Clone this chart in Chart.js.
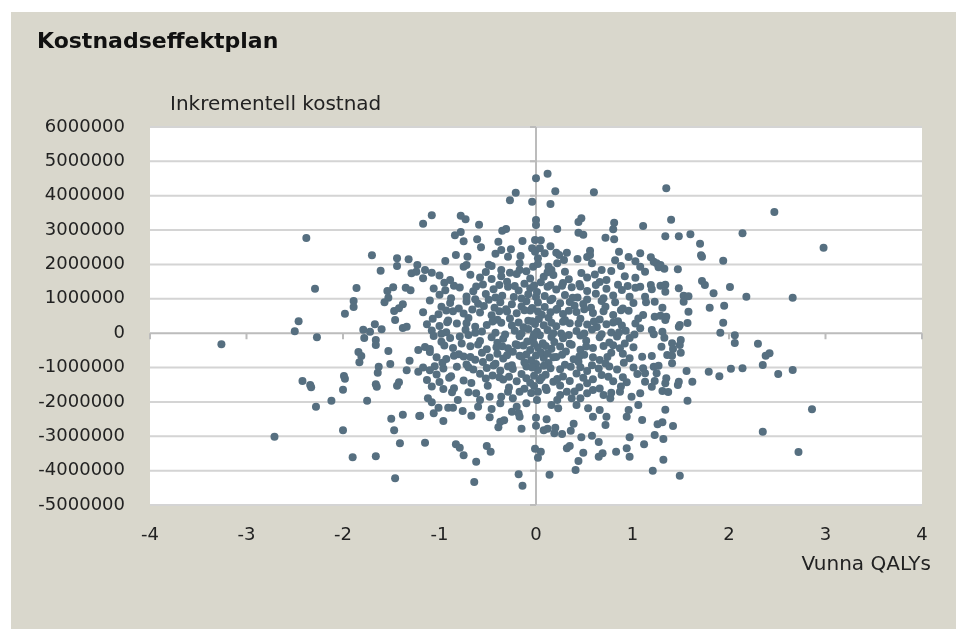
<!DOCTYPE html>
<html lang="sv">
<head>
<meta charset="UTF-8">
<title>Kostnadseffektplan</title>
<style>
  html, body { margin: 0; padding: 0; background: #fff; }
  canvas { display: block; }
</style>
<script src="https://cdn.jsdelivr.net/npm/chart.js"></script>
</head>
<body>
<canvas id="plane" width="956" height="629"></canvas>
<script>
const chartTitle = "Kostnadseffektplan";
const costAxisTitle = "Inkrementell kostnad";
const qalyAxisTitle = "Vunna QALYs";
const qalyRange = [-4, 4];
const costRange = [-5000000, 6000000];
const costStep = 1000000;

// [vunna QALYs, inkrementell kostnad]
const westPoints = [
  [-2.29,1295000],[-1.86,1315000],[-2.46,346000],[-2.50,55000],[-2.27,-119000],[-3.26,-323000],[-1.89,937000],[-1.89,762000],
  [-1.98,567000],[-1.54,1228000],[-1.48,1336000],[-1.53,1033000],[-1.57,899000],[-1.35,1324000],[-1.30,1248000],[-1.47,646000],
  [-1.42,725000],[-1.38,841000],[-1.46,384000],[-1.38,151000],[-1.34,189000],[-1.79,102000],[-1.72,44000],[-1.67,259000],
  [-1.60,113000],[-1.78,-140000],[-1.66,-198000],[-1.66,-343000],[-1.84,-547000],[-1.81,-663000],[-1.83,-847000],[-1.53,-518000],
  [-1.63,-975000],[-1.64,-1149000],[-1.51,-896000],[-1.31,-800000],[-1.34,-1080000],[-1.22,-489000],[-1.22,-1120000],[-1.99,-1245000],
  [-1.98,-1324000],[-2.42,-1391000],[-2.34,-1507000],[-1.66,-1487000],[-1.42,-1429000],[-2.38,2770000],[-1.70,2267000],[-1.44,2180000],
  [-1.32,2150000],[-1.44,1956000],[-1.23,1985000],[-1.61,1819000],[-1.29,1743000],[-1.24,1790000],[-2.33,-1574000],[-2.00,-1644000],
  [-1.65,-1557000],[-1.44,-1528000],[-2.12,-1964000],[-1.75,-1964000],[-2.28,-2139000],[-1.50,-2488000],[-1.38,-2372000],[-1.21,-2410000],
  [-2.00,-2826000],[-1.47,-2826000],[-2.71,-3012000],[-1.41,-3204000],[-1.90,-3611000],[-1.66,-3582000],[-1.46,-4222000]
];

const eastPoints = [
  [1.57,-1964000],[1.34,-2226000],[2.86,-2215000],[1.10,-2526000],[1.26,-2651000],[1.31,-2593000],[1.42,-2700000],[2.35,-2866000],
  [1.23,-2962000],[1.32,-3079000],[1.12,-3233000],[2.72,-3457000],[1.32,-3681000],[1.21,-4001000],[1.49,-4147000],[1.20,-1557000],
  [1.31,-1682000],[1.37,-1711000],[1.47,-1507000],[1.08,-1749000],
  [1.72,1519000],[1.75,1403000],[2.01,1345000],[1.84,1161000],[2.18,1062000],[2.66,1033000],[1.80,742000],[1.95,800000],
  [1.58,626000],[1.94,306000],[1.57,297000],[1.91,15000],[2.06,-61000],[2.06,-285000],[2.30,-306000],[2.38,-655000],
  [2.42,-585000],[2.35,-925000],[2.66,-1071000],[2.51,-1187000],[2.02,-1033000],[2.14,-1021000],[1.79,-1120000],[1.90,-1254000],
  [1.56,-1100000],[1.62,-1411000],[1.48,-1411000],
  [1.48,1307000],[1.53,1091000],[1.58,1074000],[1.53,917000],[1.08,1353000],[1.19,1403000],[1.20,1277000],[1.29,1382000],
  [1.34,1411000],[1.34,1208000],[1.13,1062000],[1.14,899000],[1.23,917000],[1.31,742000],[1.11,530000],[1.23,480000],
  [1.29,509000],[1.35,480000],[1.34,384000],[1.08,143000],[1.20,93000],[1.22,-32000],[1.31,44000],[1.33,-131000],
  [1.48,189000],[1.49,239000],[1.50,-198000],[1.49,-343000],[1.41,-294000],[1.42,-460000],[1.50,-567000],[1.30,-393000],
  [1.36,-634000],[1.41,-655000],[1.20,-663000],[1.10,-684000],[1.11,-1021000],[1.22,-975000],[1.27,-946000],[1.25,-1167000],
  [1.41,-876000],[1.13,-1167000],[1.35,-1312000],[1.23,-1391000],[1.34,-1458000],[1.13,-1411000],
  [1.35,4217000],[2.47,3527000],[1.40,3303000],[1.11,3119000],[2.14,2907000],[1.34,2820000],[1.48,2820000],[1.60,2878000],
  [1.70,2604000],[2.98,2488000],[1.71,2267000],[1.72,2226000],[1.94,2110000],[1.08,2325000],[1.19,2209000],[1.22,2081000],
  [1.25,2034000],[1.29,1985000],[1.27,1918000],[1.33,1877000],[1.47,1859000],[1.08,1935000],[1.13,1790000]
];

const northPoints = [
  [0.00,4508000],[0.12,4641000],[-0.21,4089000],[-0.27,3867000],[0.20,4129000],[0.60,4100000],[-0.04,3827000],[0.15,3760000],
  [-1.17,3186000],[-1.08,3431000],[-0.78,3419000],[-0.73,3314000],[-0.59,3157000],[0.00,3294000],[0.00,3149000],[0.44,3236000],
  [0.47,3344000],[0.81,3216000],[0.80,3023000],[0.72,2779000],[0.81,2732000],[0.22,3032000],[-0.35,2983000],[-0.31,3032000],
  [-0.84,2849000],[-0.78,2945000],[-0.75,2674000],[-0.61,2732000],[-0.57,2500000],[-0.39,2663000],[-0.14,2683000],[-0.01,2712000],
  [0.05,2703000],[0.44,2925000],[0.49,2866000],[0.15,2529000],[0.56,2401000],[0.56,2276000],[0.86,2372000],[0.96,2217000],
  [1.03,2092000],[-0.94,2101000],[-0.83,2276000],[-0.71,2226000],[-0.42,2313000],[-0.36,2421000],[-0.26,2441000],[-0.29,2226000],
  [-0.16,2247000],[-0.04,2471000],[-0.01,2372000],[0.04,2471000],[0.09,2325000],[0.02,2180000],[0.21,2343000],[0.24,2276000],
  [0.32,2343000],[0.29,2130000],[0.43,2159000],[0.53,2217000],[0.58,2034000],[0.68,1839000],[0.78,1810000],[0.82,2121000],
  [0.88,1956000],[-0.49,1993000],[-0.46,1956000],[-0.36,1839000],[-0.75,1935000],[-0.72,1985000],[-0.17,2034000],[-0.17,1839000],
  [-0.03,1935000],[0.02,2014000],[0.13,1935000],[0.16,1839000],[0.22,2034000],[-1.15,1839000],[-1.08,1761000]
];

const southPoints = [
  [-1.20,-2401000],[-1.15,-3186000],[-0.96,-2555000],[-0.83,-3233000],[-0.79,-3332000],[-0.75,-3553000],[-0.62,-3739000],[-0.51,-3282000],
  [-0.47,-3448000],[-0.64,-4330000],[-0.18,-4106000],[-0.14,-4438000],[0.14,-4118000],[-0.01,-3361000],[0.05,-3448000],[0.02,-3623000],
  [0.32,-3349000],[0.35,-3282000],[0.49,-3477000],[0.44,-3719000],[0.41,-3981000],[0.65,-3594000],[0.69,-3495000],[0.47,-3029000],
  [0.58,-2983000],[0.65,-3166000],[0.83,-3448000],[0.97,-3029000],[0.94,-3349000],[0.97,-3594000],[-0.15,-2779000],[0.08,-2826000],
  [0.12,-2779000],[0.20,-2750000],[0.19,-2913000],[0.27,-2933000],[0.36,-2837000],[0.39,-2634000],[0.00,-2692000],[0.00,-2459000],
  [0.11,-2506000],[-0.39,-2738000],[-0.37,-2575000],[-0.33,-2535000],[-0.48,-2447000],[-0.67,-2401000],[-0.76,-2264000],[-0.91,-2168000],
  [-0.86,-2168000],[-1.01,-2168000],[-1.06,-2331000],[-1.12,-1894000],[-1.08,-2011000],[-0.96,-1624000],[-0.87,-1720000],[-0.81,-1944000],
  [-0.62,-1749000],[-0.58,-1944000],[-0.60,-2139000],[-0.48,-1848000],[-0.46,-2206000],[-0.37,-2040000],[-0.36,-1848000],[-0.29,-1702000],
  [-0.24,-1894000],[-0.17,-1702000],[-0.25,-2284000],[-0.18,-2331000],[-0.17,-2430000],[-0.10,-2040000],[-0.20,-2139000],[0.01,-1944000],
  [0.02,-1702000],[0.11,-1653000],[0.16,-2089000],[0.22,-1944000],[0.23,-2185000],[0.25,-1798000],[0.32,-1702000],[0.37,-1894000],
  [0.42,-2089000],[0.46,-1894000],[0.53,-1749000],[0.54,-2185000],[0.59,-1653000],[0.59,-2430000],[0.66,-2235000],[0.73,-2430000],
  [0.72,-2671000],[0.70,-1798000],[0.77,-1894000],[0.87,-1702000],[0.94,-2430000],[0.96,-2235000],[0.99,-1848000],[1.06,-2089000]
];

const coreUpper = [
  [-1.17,1600000],[-1.00,1680000],[-0.89,1550000],[-0.68,1700000],[-0.58,1620000],[-0.46,1580000],[-0.36,1660000],[-0.20,1720000],
  [-0.06,1590000],[0.08,1640000],[0.18,1690000],[0.34,1570000],[0.53,1620000],[0.61,1710000],[0.73,1550000],[0.92,1660000],[1.03,1610000],
  [-1.06,1300000],[-0.94,1250000],[-0.79,1330000],[-0.65,1220000],[-0.44,1280000],[-0.29,1350000],[-0.18,1240000],[-0.06,1310000],
  [0.01,1200000],[0.21,1270000],[0.37,1340000],[0.53,1230000],[0.73,1290000],[0.89,1260000],[1.03,1320000],
  [-1.10,950000],[-0.89,880000],[-0.72,920000],[-0.60,860000],[-0.49,970000],[-0.37,900000],[-0.25,840000],[-0.10,930000],
  [0.02,890000],[0.15,960000],[0.25,870000],[0.35,910000],[0.49,850000],[0.68,940000],[0.82,900000],[1.01,880000],
  [-1.17,610000],[-1.01,550000],[-0.86,640000],[-0.75,570000],[-0.58,600000],[-0.46,520000],[-0.30,630000],[-0.20,580000],
  [-0.06,660000],[0.06,540000],[0.15,610000],[0.28,560000],[0.42,620000],[0.59,590000],[0.80,530000],[0.96,650000],
  [-1.13,260000],[-1.00,210000],[-0.82,280000],[-0.63,190000],[-0.51,240000],[-0.36,300000],[-0.25,220000],[-0.13,170000],
  [-0.01,270000],[0.08,230000],[0.21,200000],[0.35,290000],[0.53,250000],[0.63,180000],[0.73,260000],[0.89,220000],[1.03,280000],
  [-0.95,1470000],[-0.55,1420000],[-0.30,1500000],[-0.12,1440000],[0.05,1480000],[0.15,1400000],[0.28,1460000],[0.45,1430000],
  [0.66,1490000],[0.85,1410000],
  [-1.00,1120000],[-0.72,1070000],[-0.52,1140000],[-0.35,1090000],[-0.23,1050000],[-0.08,1130000],[0.09,1080000],[0.30,1110000],
  [0.43,1040000],[0.62,1150000],[0.80,1100000],[0.97,1060000],
  [-0.98,770000],[-0.80,720000],[-0.54,790000],[-0.43,740000],[-0.31,700000],[-0.15,780000],[-0.04,730000],[0.09,760000],
  [0.22,710000],[0.40,800000],[0.57,740000],[0.72,770000],[0.90,720000],
  [-1.07,420000],[-0.91,370000],[-0.70,440000],[-0.40,390000],[-0.27,430000],[-0.08,360000],[0.03,410000],[0.13,450000],
  [0.30,380000],[0.46,420000],[0.66,400000],[0.85,350000],[1.06,430000],
  [-1.08,80000],[-0.93,30000],[-0.73,100000],[-0.56,50000],[-0.42,10000],[-0.22,70000],[-0.08,120000],[0.01,40000],
  [0.12,90000],[0.26,-10000],[0.42,60000],[0.58,110000],[0.78,20000],[0.93,70000]
];

const coreLower = [
  [-1.06,-80000],[-0.89,-140000],[-0.79,-100000],[-0.70,-50000],[-0.46,-120000],[-0.34,-160000],[-0.17,-90000],[-0.03,-130000],
  [0.04,-60000],[0.16,-110000],[0.28,-150000],[0.46,-70000],[0.66,-120000],[0.84,-100000],[0.97,-140000],
  [-1.15,-400000],[-1.10,-460000],[-0.86,-430000],[-0.68,-380000],[-0.51,-470000],[-0.41,-410000],[-0.29,-440000],[-0.13,-360000],
  [-0.06,-490000],[0.02,-420000],[0.16,-450000],[0.25,-390000],[0.46,-480000],[0.59,-430000],[0.70,-370000],[0.87,-440000],[1.01,-410000],
  [-1.03,-700000],[-0.93,-750000],[-0.75,-680000],[-0.63,-770000],[-0.48,-710000],[-0.34,-740000],[-0.17,-660000],[-0.05,-790000],
  [0.08,-720000],[0.21,-690000],[0.39,-760000],[0.59,-700000],[0.66,-780000],[0.97,-730000],
  [-1.17,-1000000],[-1.10,-1080000],[-0.96,-1030000],[-0.82,-980000],[-0.65,-1060000],[-0.51,-1010000],[-0.37,-1090000],[-0.24,-1040000],
  [-0.10,-970000],[0.02,-1070000],[0.15,-1020000],[0.25,-1050000],[0.46,-990000],[0.53,-1100000],[0.65,-1030000],[0.84,-1060000],[1.01,-1000000],
  [-1.13,-1360000],[-1.00,-1420000],[-0.75,-1380000],[-0.67,-1450000],[-0.34,-1350000],[-0.20,-1400000],[-0.06,-1440000],[0.04,-1370000],
  [0.18,-1410000],[0.35,-1390000],[0.53,-1460000],[0.59,-1340000],[0.80,-1400000],[0.94,-1430000],
  [-0.98,-250000],[-0.77,-300000],[-0.58,-230000],[-0.40,-280000],[-0.21,-320000],[-0.09,-240000],[0.07,-290000],[0.19,-260000],
  [0.35,-310000],[0.52,-220000],[0.76,-270000],[0.92,-300000],
  [-1.10,-550000],[-0.80,-610000],[-0.56,-570000],[-0.40,-600000],[-0.24,-540000],[-0.10,-620000],[0.05,-560000],[0.12,-590000],
  [0.31,-530000],[0.50,-630000],[0.78,-570000],[0.90,-600000],
  [-0.97,-860000],[-0.72,-910000],[-0.55,-840000],[-0.42,-890000],[-0.25,-930000],[-0.12,-850000],[0.00,-900000],[0.13,-870000],
  [0.30,-920000],[0.44,-830000],[0.72,-880000],[0.91,-860000],
  [-1.03,-1200000],[-0.88,-1250000],[-0.58,-1180000],[-0.45,-1230000],[-0.28,-1270000],[-0.15,-1190000],[-0.02,-1240000],[0.10,-1210000],
  [0.28,-1260000],[0.42,-1170000],[0.68,-1220000],[0.90,-1280000],[1.05,-1190000],
  [-1.08,-1550000],[-0.85,-1600000],[-0.50,-1530000],[-0.28,-1580000],[-0.12,-1620000],[-0.02,-1540000],[0.10,-1590000],[0.25,-1520000],
  [0.45,-1570000],[0.66,-1610000],[0.88,-1550000]
];

const coreFill = [
  [-0.52,1780000],[-0.27,1760000],[-0.10,1800000],[0.12,1770000],[0.30,1790000],[0.47,1750000],
  [-0.85,1380000],[-0.62,1360000],[-0.38,1400000],[-0.22,1370000],[-0.02,1390000],[0.12,1350000],[0.27,1380000],[0.46,1360000],
  [0.62,1400000],[0.95,1370000],
  [-0.88,1020000],[-0.63,990000],[-0.42,1040000],[-0.15,1010000],[0.00,1050000],[0.17,1000000],[0.38,1030000],[0.53,980000],[0.70,1020000],
  [-0.93,660000],[-0.66,690000],[-0.38,640000],[-0.12,670000],[0.02,630000],[0.21,680000],[0.34,650000],[0.50,700000],[0.70,640000],[0.88,670000],
  [-0.92,320000],[-0.72,290000],[-0.45,340000],[-0.18,310000],[-0.04,350000],[0.16,300000],[0.28,330000],[0.44,280000],[0.60,340000],[0.80,310000],
  [-0.98,-20000],[-0.63,10000],[-0.32,-40000],[-0.15,-10000],[-0.02,-30000],[0.18,0],[0.34,-50000],[0.50,-10000],[0.68,-30000],
  [0.86,20000],[1.02,-40000],
  [-0.95,-360000],[-0.60,-330000],[-0.35,-380000],[-0.19,-350000],[-0.02,-310000],[0.10,-370000],[0.37,-340000],[0.52,-390000],[0.80,-350000],
  [-0.85,-660000],[-0.68,-690000],[-0.30,-640000],[-0.15,-680000],[0.00,-650000],[0.18,-700000],[0.27,-630000],[0.45,-670000],[0.74,-690000],
  [-1.05,-960000],[-0.70,-990000],[-0.44,-940000],[-0.29,-970000],[-0.04,-1000000],[0.08,-950000],[0.36,-980000],[0.58,-930000],[0.76,-970000],
  [-0.90,-1300000],[-0.52,-1320000],[-0.38,-1280000],[-0.10,-1310000],[0.06,-1290000],[0.22,-1330000],[0.49,-1300000],[0.75,-1270000],
  [-0.70,-1720000],[-0.05,-1740000],[0.40,-1700000],[0.78,-1730000]
];

const FONT = "'DejaVu Sans', sans-serif";
const DOT = "#566f80";
const GRID = "#d4d4d4";
const AXIS = "#bcbcbc";

const points = [].concat(westPoints, eastPoints, northPoints, southPoints, coreUpper, coreLower, coreFill)
  .map(p => ({ x: p[0], y: p[1] }));

// beige frame, white plot area, gridlines, zero axes with tick marks, and the texts around the plot
const framePlugin = {
  id: "frame",
  beforeDraw(chart) {
    const c = chart.ctx, a = chart.chartArea;
    c.save();
    c.fillStyle = "#ffffff";
    c.fillRect(0, 0, chart.width, chart.height);
    c.fillStyle = "#d9d7cc";
    c.fillRect(11, 12, chart.width - 11, chart.height - 12);
    c.fillStyle = "#ffffff";
    c.fillRect(a.left, a.top, a.right - a.left, a.bottom - a.top);
    c.restore();
  },
  beforeDatasetsDraw(chart) {
    const c = chart.ctx, a = chart.chartArea;
    const xs = chart.scales.x, ys = chart.scales.y;
    const x0 = xs.getPixelForValue(0);
    const y0 = ys.getPixelForValue(0);
    c.save();
    c.lineWidth = 2;
    c.strokeStyle = GRID;
    c.beginPath();
    for (let v = costRange[0]; v <= costRange[1]; v += costStep) {
      if (v === 0) continue;
      const py = ys.getPixelForValue(v);
      c.moveTo(a.left, py); c.lineTo(a.right, py);
    }
    c.stroke();
    c.strokeStyle = AXIS;
    c.beginPath();
    c.moveTo(a.left, y0); c.lineTo(a.right, y0);
    c.moveTo(x0, a.top); c.lineTo(x0, a.bottom);
    for (let v = qalyRange[0]; v <= qalyRange[1]; v++) {
      const px = xs.getPixelForValue(v);
      c.moveTo(px, y0); c.lineTo(px, y0 + 6);
    }
    for (let v = costRange[0]; v <= costRange[1]; v += costStep) {
      const py = ys.getPixelForValue(v);
      c.moveTo(x0 - 6, py); c.lineTo(x0, py);
    }
    c.stroke();
    c.restore();
  },
  afterDraw(chart) {
    const c = chart.ctx;
    c.save();
    c.fillStyle = "#111111";
    c.textBaseline = "alphabetic";
    c.font = "bold 22px " + FONT;
    c.textAlign = "left";
    c.fillText(chartTitle, 37, 48);
    c.font = "20px " + FONT;
    c.fillStyle = "#222222";
    c.fillText(costAxisTitle, 170, 110);
    c.textAlign = "right";
    c.fillText(qalyAxisTitle, 931, 570);
    c.restore();
  }
};

new Chart(document.getElementById("plane"), {
  type: "scatter",
  data: {
    datasets: [{
      label: "Simuleringar",
      data: points,
      backgroundColor: DOT,
      borderWidth: 0,
      pointRadius: 4,
      pointHoverRadius: 4
    }]
  },
  options: {
    responsive: false,
    animation: false,
    devicePixelRatio: 1,
    events: [],
    layout: { padding: { top: 127, right: 34, left: 0, bottom: 0 } },
    plugins: {
      legend: { display: false },
      tooltip: { enabled: false },
      title: { display: false }
    },
    scales: {
      x: {
        type: "linear",
        min: qalyRange[0],
        max: qalyRange[1],
        afterFit(s) { s.height = 124; },
        border: { display: false },
        grid: { display: false },
        ticks: {
          stepSize: 1,
          padding: 12,
          color: "#222222",
          font: { family: FONT, size: 18 },
          callback: v => String(v)
        }
      },
      y: {
        type: "linear",
        min: costRange[0],
        max: costRange[1],
        afterFit(s) { s.width = 150; },
        border: { display: false },
        grid: { display: false },
        ticks: {
          stepSize: costStep,
          padding: 17,
          color: "#222222",
          font: { family: FONT, size: 18 },
          callback: v => String(v)
        }
      }
    }
  },
  plugins: [framePlugin]
});
</script>
</body>
</html>
